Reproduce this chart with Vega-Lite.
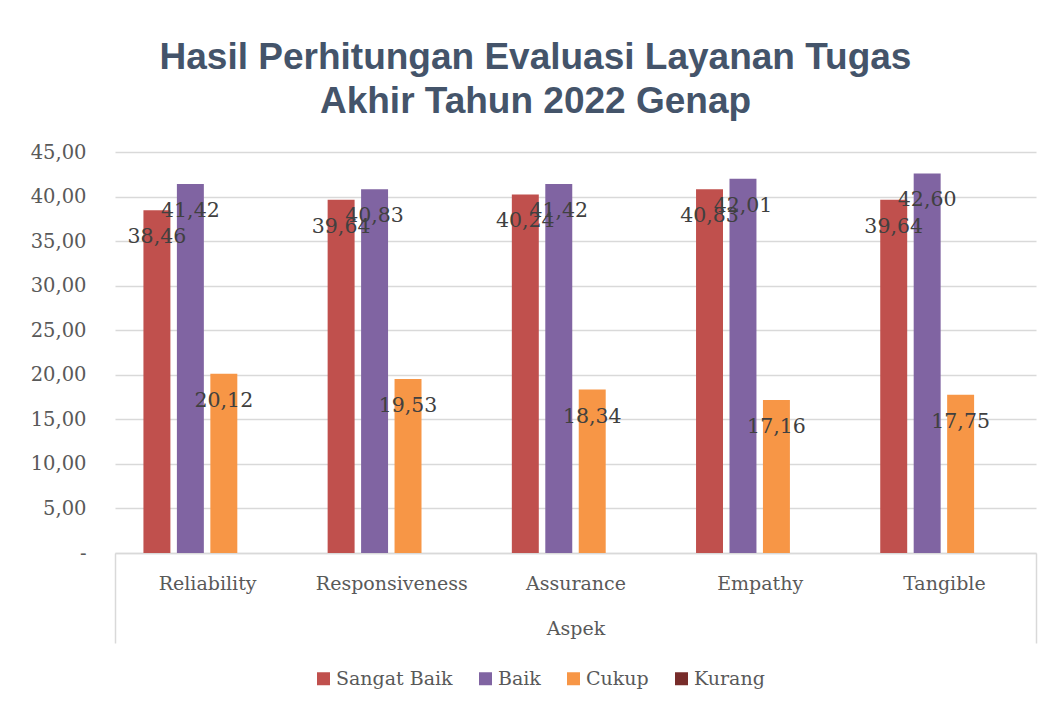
{
  "$schema": "https://vega.github.io/schema/vega-lite/v6.json",
  "width": 921,
  "height": 401,
  "autosize": {"type": "none"},
  "padding": {"left": 115, "top": 152, "right": 17, "bottom": 154},
  "background": "white",
  "config": {
    "locale": {"number": {"decimal": ",", "thousands": ".", "grouping": [3], "currency": ["", ""]}},
    "view": {"stroke": null},
    "font": "DejaVu Serif"
  },
  "title": {
    "text": ["Hasil Perhitungan Evaluasi Layanan Tugas", "Akhir Tahun 2022 Genap"],
    "font": "Liberation Sans",
    "fontWeight": "bold",
    "fontSize": 37,
    "color": "#44546A",
    "lineHeight": 44,
    "anchor": "middle",
    "frame": "group",
    "dx": -40,
    "dy": 52,
    "baseline": "bottom",
    "offset": 36
  },
  "data": {
    "values": [
      {"aspek": "Reliability", "kategori": "Sangat Baik", "nilai": 38.46},
      {"aspek": "Reliability", "kategori": "Baik", "nilai": 41.42},
      {"aspek": "Reliability", "kategori": "Cukup", "nilai": 20.12},
      {"aspek": "Reliability", "kategori": "Kurang", "nilai": 0},
      {"aspek": "Responsiveness", "kategori": "Sangat Baik", "nilai": 39.64},
      {"aspek": "Responsiveness", "kategori": "Baik", "nilai": 40.83},
      {"aspek": "Responsiveness", "kategori": "Cukup", "nilai": 19.53},
      {"aspek": "Responsiveness", "kategori": "Kurang", "nilai": 0},
      {"aspek": "Assurance", "kategori": "Sangat Baik", "nilai": 40.24},
      {"aspek": "Assurance", "kategori": "Baik", "nilai": 41.42},
      {"aspek": "Assurance", "kategori": "Cukup", "nilai": 18.34},
      {"aspek": "Assurance", "kategori": "Kurang", "nilai": 0},
      {"aspek": "Empathy", "kategori": "Sangat Baik", "nilai": 40.83},
      {"aspek": "Empathy", "kategori": "Baik", "nilai": 42.01},
      {"aspek": "Empathy", "kategori": "Cukup", "nilai": 17.16},
      {"aspek": "Empathy", "kategori": "Kurang", "nilai": 0},
      {"aspek": "Tangible", "kategori": "Sangat Baik", "nilai": 39.64},
      {"aspek": "Tangible", "kategori": "Baik", "nilai": 42.60},
      {"aspek": "Tangible", "kategori": "Cukup", "nilai": 17.75},
      {"aspek": "Tangible", "kategori": "Kurang", "nilai": 0}
    ]
  },
  "encoding": {
    "x": {
      "field": "aspek",
      "type": "nominal",
      "sort": ["Reliability", "Responsiveness", "Assurance", "Empathy", "Tangible"],
      "scale": {"paddingInner": 0, "paddingOuter": 0},
      "axis": {
        "title": "Aspek",
        "titleFont": "DejaVu Serif",
        "titleFontSize": 19,
        "titleFontWeight": "normal",
        "titleColor": "#595959",
        "titleY": 81,
        "titleBaseline": "alphabetic",
        "labelAngle": 0,
        "labelFont": "DejaVu Serif",
        "labelFontSize": 19,
        "labelColor": "#595959",
        "labelBaseline": "alphabetic",
        "labelPadding": -54,
        "domainColor": "#d9d9d9",
        "domainWidth": 1.5,
        "tickBand": "extent",
        "tickSize": 90,
        "tickColor": "#d9d9d9",
        "tickWidth": 1.5,
        "tickOpacity": {"condition": {"test": "datum.index < 0 || datum.index == 1", "value": 1}, "value": 0}
      }
    },
    "xOffset": {
      "field": "kategori",
      "type": "nominal",
      "sort": ["Sangat Baik", "Baik", "Cukup", "Kurang"],
      "scale": {"paddingInner": 0.194, "paddingOuter": 0.85}
    },
    "y": {
      "field": "nilai",
      "type": "quantitative",
      "scale": {"domain": [0, 45]},
      "axis": {
        "title": null,
        "values": [0, 5, 10, 15, 20, 25, 30, 35, 40, 45],
        "format": ",.2f",
        "labelExpr": "datum.value == 0 ? '-' : datum.label",
        "domain": false,
        "ticks": false,
        "tickSize": 0,
        "labelPadding": 29,
        "gridColor": "#d9d9d9",
        "gridWidth": 1.3,
        "labelFont": "DejaVu Serif",
        "labelFontSize": 19.5,
        "labelColor": "#595959"
      }
    }
  },
  "layer": [
    {
      "mark": {"type": "bar"},
      "encoding": {
        "color": {
          "field": "kategori",
          "type": "nominal",
          "sort": ["Sangat Baik", "Baik", "Cukup", "Kurang"],
          "scale": {
            "domain": ["Sangat Baik", "Baik", "Cukup", "Kurang"],
            "range": ["#C0504D", "#8064A2", "#F79646", "#772C2A"]
          },
          "legend": {
            "orient": "none",
            "legendX": 199,
            "legendY": 517,
            "direction": "horizontal",
            "title": null,
            "symbolType": "square",
            "symbolSize": 169,
            "symbolStrokeWidth": 0,
            "symbolOpacity": 1,
            "labelFont": "DejaVu Serif",
            "labelFontSize": 19,
            "labelColor": "#595959",
            "columnPadding": 23,
            "labelOffset": 3,
            "padding": 0
          }
        }
      }
    },
    {
      "transform": [{"filter": "datum.nilai > 0"}],
      "mark": {"type": "text", "dy": 27, "fontSize": 20.5, "font": "DejaVu Serif", "color": "#404040", "baseline": "middle", "align": "center"},
      "encoding": {
        "text": {"field": "nilai", "type": "quantitative", "format": ",.2f"}
      }
    }
  ]
}
